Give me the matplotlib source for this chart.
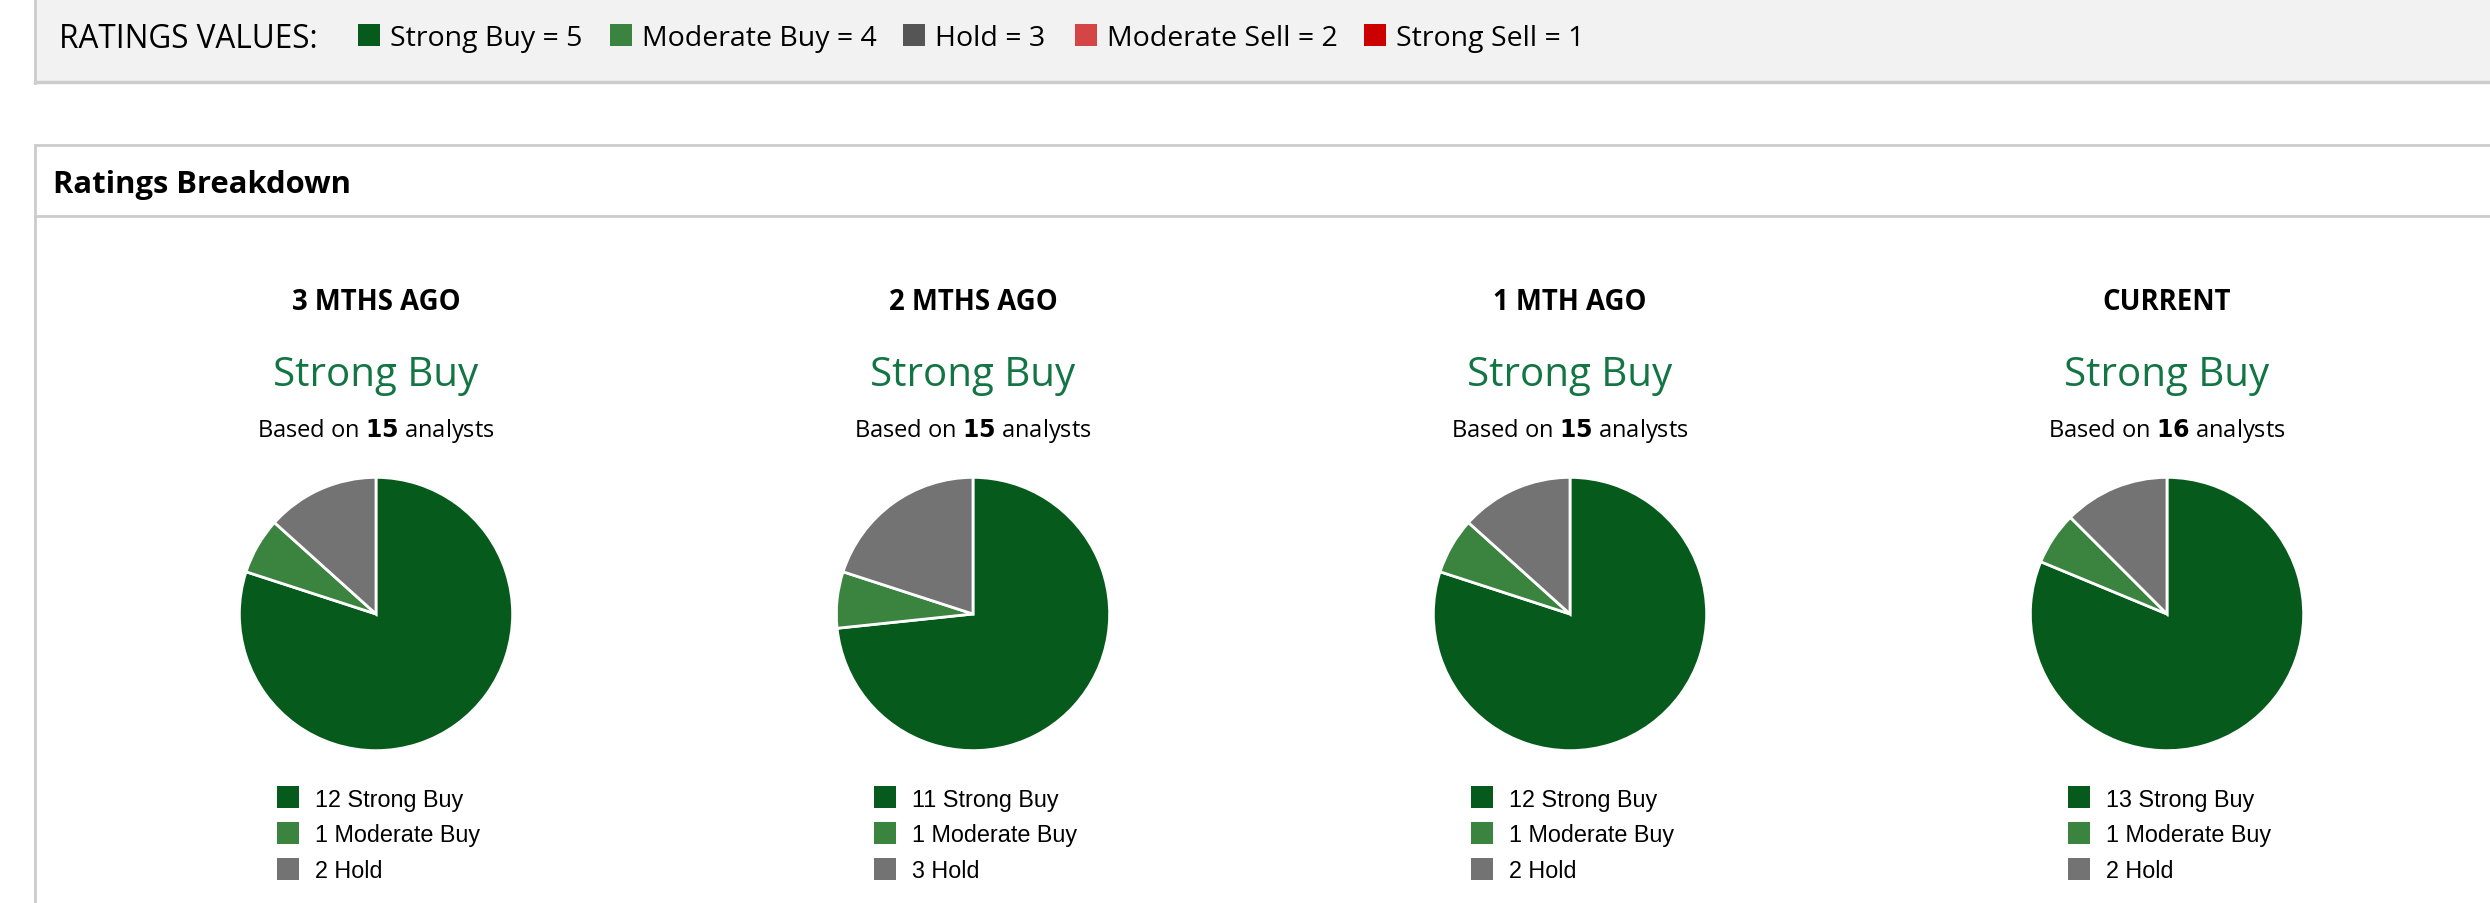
import matplotlib.pyplot as plt
from matplotlib.patches import Rectangle
from matplotlib.lines import Line2D

W, H = 2490, 904

# data
periods = ['3 MTHS AGO', '2 MTHS AGO', '1 MTH AGO', 'CURRENT']
consensus = ['Strong Buy', 'Strong Buy', 'Strong Buy', 'Strong Buy']
strong_buy = [12, 11, 12, 13]
moderate_buy = [1, 1, 1, 1]
hold = [2, 3, 2, 2]
rating_names = ['Strong Buy', 'Moderate Buy', 'Hold', 'Moderate Sell', 'Strong Sell']
rating_values = [5, 4, 3, 2, 1]

key_colors = ['#065a1b', '#3a8440', '#555555', '#d64545', '#cc0000']
pie_colors = ['#065a1b', '#3a8440', '#737373']

plt.rcParams['font.family'] = ['Open Sans', 'DejaVu Sans']

fig = plt.figure(figsize=(W / 100, H / 100), dpi=100)
fig.patch.set_facecolor('white')


def fx(x):
    return x / W


def fy(y):
    return 1 - y / H


# top key box
fig.patches.append(Rectangle((fx(35), fy(84)), fx(W), 84 / H, transform=fig.transFigure,
                             facecolor='#f2f2f2', edgecolor='none'))
fig.lines.append(Line2D([fx(35), fx(35)], [fy(0), fy(84)], transform=fig.transFigure, color='#cccccc', lw=2))
fig.lines.append(Line2D([fx(35), 1], [fy(83), fy(83)], transform=fig.transFigure, color='#cccccc', lw=2.5))

fig.text(fx(59), fy(39), 'RATINGS VALUES:', fontsize=22.7, va='center', ha='left')
key_x = [358, 610, 903, 1075, 1364]
for i, (name, val) in enumerate(zip(rating_names, rating_values)):
    x0 = key_x[i]
    fig.patches.append(Rectangle((fx(x0), fy(47)), fx(22), 22 / H, transform=fig.transFigure,
                                 facecolor=key_colors[i], edgecolor='none'))
    fig.text(fx(x0 + 32), fy(39), f'{name} = {val}', fontsize=20.5, va='center', ha='left')

# ratings breakdown box
fig.lines.append(Line2D([fx(35), 1], [fy(146), fy(146)], transform=fig.transFigure, color='#cccccc', lw=2))
fig.lines.append(Line2D([fx(35), 1], [fy(217), fy(217)], transform=fig.transFigure, color='#cccccc', lw=2))
fig.lines.append(Line2D([fx(35), fx(35)], [fy(146), 0], transform=fig.transFigure, color='#cccccc', lw=2))
fig.text(fx(53), fy(185), 'Ratings Breakdown', fontsize=22.3, fontweight='bold', va='center', ha='left')

centers = [376, 973, 1570, 2167]
cy = 615
r = 138
for i, cx in enumerate(centers):
    total = strong_buy[i] + moderate_buy[i] + hold[i]
    fig.text(fx(cx), fy(302), periods[i], fontsize=19.8, fontweight='bold', ha='center', va='center')
    fig.text(fx(cx), fy(376), consensus[i], fontsize=29, color='#137543', ha='center', va='center')
    fig.text(fx(cx), fy(431), f'Based on $\\bf{{{total}}}$ analysts', fontsize=17, ha='center', va='center')

    ax = fig.add_axes([fx(cx - r), fy(cy + r), 2 * r / W, 2 * r / H])
    vals = [strong_buy[i], moderate_buy[i], hold[i]]
    ax.pie(vals, colors=pie_colors, startangle=90, counterclock=False,
           wedgeprops=dict(edgecolor='white', linewidth=2))
    ax.set_xlim(-1.01, 1.01)
    ax.set_ylim(-1.01, 1.01)
    ax.set_aspect('equal')
    ax.axis('off')

    labels = [f'{strong_buy[i]} Strong Buy', f'{moderate_buy[i]} Moderate Buy', f'{hold[i]} Hold']
    for j, lab in enumerate(labels):
        ly = 798 + j * 36
        lx = cx - 99
        fig.patches.append(Rectangle((fx(lx), fy(ly + 11)), fx(22), 22 / H, transform=fig.transFigure,
                                     facecolor=pie_colors[j], edgecolor='none'))
        fig.text(fx(cx - 61), fy(ly + 2), lab, fontsize=16.8, family=['Liberation Sans', 'DejaVu Sans'],
                 ha='left', va='center')

fig.savefig('out.png', dpi=100, facecolor='white')
